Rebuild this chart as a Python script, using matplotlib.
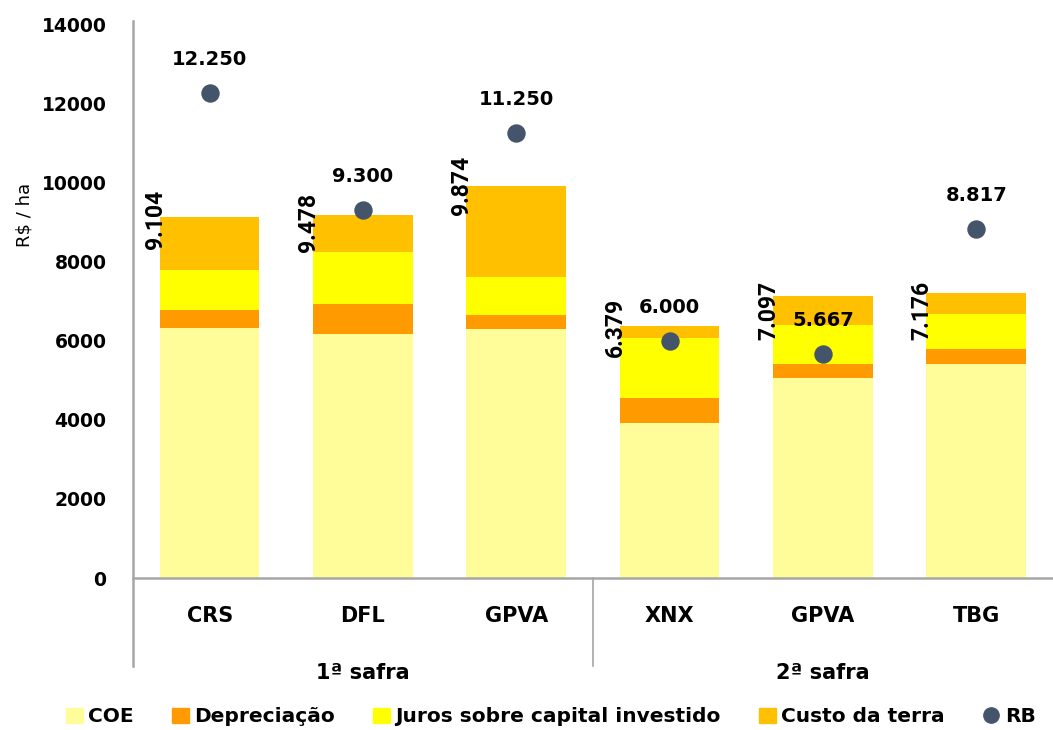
import matplotlib
matplotlib.use("Agg")
import matplotlib.pyplot as plt
from matplotlib.lines import Line2D
from matplotlib.patches import Patch
import numpy as np

plt.rcParams['font.family'] = ['DejaVu Sans']

cats = ['CRS', 'DFL', 'GPVA', 'XNX', 'GPVA', 'TBG']
groups = ['1ª safra', '2ª safra']
coe = [6318, 6158, 6285, 3925, 5054, 5408]
depreciacao = [455, 774, 353, 616, 354, 387]
juros = [1010, 1299, 976, 1524, 978, 884]
custo_terra = [1347, 942, 2300, 311, 740, 515]
rb = [12250, 9300, 11250, 6000, 5667, 8817]
total_labels = ['9.104', '9.478', '9.874', '6.379', '7.097', '7.176']
rb_labels = ['12.250', '9.300', '11.250', '6.000', '5.667', '8.817']

series = [('COE', coe, '#FFFD9A'),
          ('Depreciação', depreciacao, '#FF9A00'),
          ('Juros sobre capital investido', juros, '#FFFF00'),
          ('Custo da terra', custo_terra, '#FFC000')]

fig = plt.figure(figsize=(10.53, 7.30), dpi=100)
ax = fig.add_axes([0.1263, 0.2082, 0.8737, 0.7589])

x = np.arange(len(cats))
bottom = np.zeros(len(cats))
for name, vals, col in series:
    ax.bar(x, vals, 0.65, bottom=bottom, color=col, label=name)
    bottom += np.array(vals)

ax.scatter(x, rb, s=150, color='#44546A', zorder=5, label='RB')
for i in range(len(cats)):
    ax.annotate(rb_labels[i], (x[i], rb[i]), xytext=(0, 24), textcoords='offset points',
                ha='center', va='center', fontsize=14, fontweight='bold')

# rotated total labels, placed by hand like in the original
label_y = [9059, 8984, 9918, 6330, 6772, 6760]
for i in range(len(cats)):
    ax.text(x[i] - 0.355, label_y[i], total_labels[i], rotation=90, ha='center', va='center',
            fontsize=16.5, fontweight='bold', family=['Roboto', 'DejaVu Sans'])

ax.set_xlim(-0.5, 5.5)
ax.set_ylim(0, 14000)
ax.set_yticks(range(0, 14001, 2000))
ax.tick_params(axis='y', length=0, pad=19, labelsize=13.5)
for t in ax.get_yticklabels():
    t.set_fontweight('bold')
ax.set_xticks([])
ax.set_ylabel('R$ / ha', fontsize=13)
ax.yaxis.set_label_coords(-0.108, 0.655)

for s in ['top', 'right', 'left', 'bottom']:
    ax.spines[s].set_visible(False)

gc = '#A6A6A6'
ax.plot([-0.5, -0.5], [-0.159, 1.006], transform=ax.get_xaxis_transform(), color=gc, lw=1.8, clip_on=False)
ax.plot([-0.5, 5.5], [0, 0], transform=ax.get_xaxis_transform(), color=gc, lw=1.8, clip_on=False)
ax.plot([2.5, 2.5], [-0.159, 0], transform=ax.get_xaxis_transform(), color=gc, lw=1.2, clip_on=False)

for i in range(len(cats)):
    ax.text(x[i], -0.068, cats[i], transform=ax.get_xaxis_transform(), ha='center', va='center',
            fontsize=15, fontweight='bold')
for j, g in enumerate(groups):
    ax.text(1 + 3 * j, -0.172, g, transform=ax.get_xaxis_transform(), ha='center', va='center',
            fontsize=15, fontweight='bold')

handles = [Patch(color=c) for _, _, c in series]
handles.append(Line2D([], [], marker='o', linestyle='none', color='#44546A', markersize=11))
labels = [n for n, _, _ in series] + ['RB']
fig.legend(handles, labels, loc='center', bbox_to_anchor=(0.523, 0.018), ncol=5, frameon=False,
           prop={'size': 14.5, 'weight': 'bold'}, handlelength=0.85, handleheight=0.8,
           handletextpad=0.25, columnspacing=1.9)

fig.savefig('out.png', dpi=100)
